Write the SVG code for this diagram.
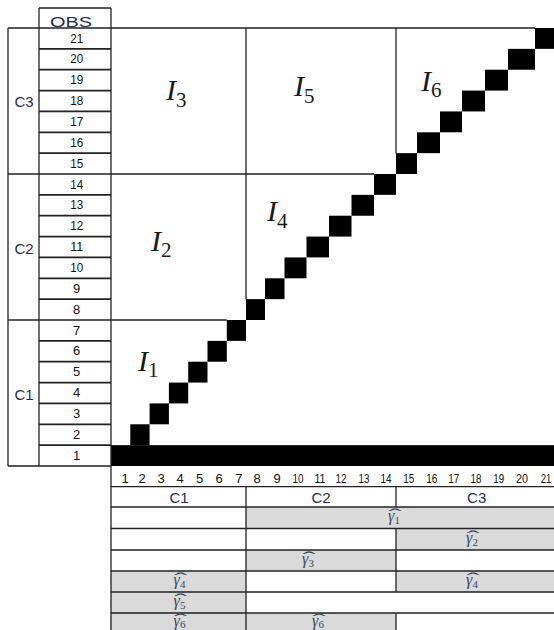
<svg xmlns="http://www.w3.org/2000/svg" width="554" height="630" viewBox="0 0 554 630">
<style>
.ln{stroke:#222;stroke-width:1.3;fill:none}
.ln2{stroke:#222;stroke-width:1.7;fill:none}
.blk{fill:#000}
.gr{fill:#dadada}
.num{font-family:"Liberation Sans",Arial,sans-serif;font-size:13px;fill:#111;text-anchor:middle}
.ax{font-family:"Liberation Sans",Arial,sans-serif;font-size:13px;fill:#111;text-anchor:middle}
.cl{font-family:"Liberation Sans",Arial,sans-serif;font-size:15px;fill:#1f3050}
.hd{font-family:"Liberation Sans",Arial,sans-serif;font-size:15px;fill:#1f3050;text-anchor:middle}
.I{font-family:"Liberation Serif","Times New Roman",serif;font-style:italic;font-size:30px;fill:#1a1a1a}
.Is{font-size:21px;font-style:normal}
.g{font-family:"Liberation Serif","Times New Roman",serif;font-style:italic;font-size:16px;fill:#34495e;text-anchor:middle}
.gs{font-size:11px;font-style:normal}
.hat{font-family:"Liberation Serif","Times New Roman",serif;font-size:16px;fill:#34495e;text-anchor:middle}
</style>

<g id="table-fills">
  <rect class="gr" x="246" y="507" width="310" height="21.5"/>
  <rect class="gr" x="396" y="528.5" width="160" height="21.5"/>
  <rect class="gr" x="246" y="550" width="150" height="21"/>
  <rect class="gr" x="111" y="571" width="135" height="21"/>
  <rect class="gr" x="396" y="571" width="160" height="21"/>
  <rect class="gr" x="111" y="592" width="135" height="21"/>
  <rect class="gr" x="111" y="613" width="135" height="20"/>
  <rect class="gr" x="246" y="613" width="150" height="20"/>
</g>

<g id="staircase">
  <rect class="blk" x="111" y="445.14" width="445" height="20.86"/>
  <rect class="blk" x="130.3" y="424.29" width="19.3" height="20.86"/>
  <rect class="blk" x="149.6" y="403.43" width="19.3" height="20.86"/>
  <rect class="blk" x="168.9" y="382.57" width="19.3" height="20.86"/>
  <rect class="blk" x="188.2" y="361.71" width="19.3" height="20.86"/>
  <rect class="blk" x="207.5" y="340.86" width="19.3" height="20.86"/>
  <rect class="blk" x="226.8" y="320" width="19.2" height="20.86"/>
  <rect class="blk" x="246" y="299.14" width="19" height="20.86"/>
  <rect class="blk" x="265" y="278.29" width="19.5" height="20.86"/>
  <rect class="blk" x="284.5" y="257.43" width="22" height="20.86"/>
  <rect class="blk" x="306.5" y="236.57" width="22.5" height="20.86"/>
  <rect class="blk" x="329" y="215.71" width="22.5" height="20.86"/>
  <rect class="blk" x="351.5" y="194.86" width="22.5" height="20.86"/>
  <rect class="blk" x="374" y="174" width="22" height="20.86"/>
  <rect class="blk" x="396" y="153.14" width="21" height="20.86"/>
  <rect class="blk" x="417" y="132.29" width="23" height="20.86"/>
  <rect class="blk" x="440" y="111.43" width="22" height="20.86"/>
  <rect class="blk" x="462" y="90.57" width="23" height="20.86"/>
  <rect class="blk" x="485" y="69.71" width="23" height="20.86"/>
  <rect class="blk" x="508" y="48.86" width="27" height="20.86"/>
  <rect class="blk" x="535" y="28" width="21" height="20.86"/>
</g>

<g id="grid-lines">
  <path class="ln" d="M39,8 H111 M39,8 V466 M111,8 V630 M8,28 V466 M8,466 H111"/>
  <path class="ln" d="M8,28 H535 M8,174 H374 M8,320 H226.8"/>
  <path class="ln" d="M246,28 V299.14 M396,28 V153.14"/>
  <path class="ln2" d="M39,48.86 H111 M39,69.71 H111 M39,90.57 H111 M39,111.43 H111 M39,132.29 H111 M39,153.14 H111 M39,194.86 H111 M39,215.71 H111 M39,236.57 H111 M39,257.43 H111 M39,278.29 H111 M39,299.14 H111 M39,340.86 H111 M39,361.71 H111 M39,382.57 H111 M39,403.43 H111 M39,424.29 H111 M39,445.14 H111"/>
  <path class="ln" d="M111,486.7 H556 M111,507 H556 M111,528.5 H556 M111,550 H556 M111,571 H556 M111,592 H556 M111,613 H556"/>
  <path class="ln" d="M246,486.7 V633 M396,486.7 V507 M396,528.5 V592 M396,613 V633"/>
</g>

<g id="obs-column">
  <text class="cl" x="71" y="26.5" text-anchor="middle" textLength="42" lengthAdjust="spacingAndGlyphs">OBS</text>
  <text class="num" x="76.7" y="42.5" textLength="13" lengthAdjust="spacingAndGlyphs">21</text>
  <text class="num" x="76.7" y="63.4" textLength="13" lengthAdjust="spacingAndGlyphs">20</text>
  <text class="num" x="76.7" y="84.2" textLength="13" lengthAdjust="spacingAndGlyphs">19</text>
  <text class="num" x="76.7" y="105.1" textLength="13" lengthAdjust="spacingAndGlyphs">18</text>
  <text class="num" x="76.7" y="125.9" textLength="13" lengthAdjust="spacingAndGlyphs">17</text>
  <text class="num" x="76.7" y="146.8" textLength="13" lengthAdjust="spacingAndGlyphs">16</text>
  <text class="num" x="76.7" y="167.6" textLength="13" lengthAdjust="spacingAndGlyphs">15</text>
  <text class="num" x="76.7" y="188.5" textLength="13" lengthAdjust="spacingAndGlyphs">14</text>
  <text class="num" x="76.7" y="209.4" textLength="13" lengthAdjust="spacingAndGlyphs">13</text>
  <text class="num" x="76.7" y="230.2" textLength="13" lengthAdjust="spacingAndGlyphs">12</text>
  <text class="num" x="76.7" y="251.1" textLength="13" lengthAdjust="spacingAndGlyphs">11</text>
  <text class="num" x="76.7" y="271.9" textLength="13" lengthAdjust="spacingAndGlyphs">10</text>
  <text class="num" x="76.7" y="292.8">9</text>
  <text class="num" x="76.7" y="313.6">8</text>
  <text class="num" x="76.7" y="334.5">7</text>
  <text class="num" x="76.7" y="355.4">6</text>
  <text class="num" x="76.7" y="376.2">5</text>
  <text class="num" x="76.7" y="397.1">4</text>
  <text class="num" x="76.7" y="417.9">3</text>
  <text class="num" x="76.7" y="438.8">2</text>
  <text class="num" x="76.7" y="459.6">1</text>
</g>

<g id="cluster-labels">
  <text class="cl" x="14.5" y="107">C3</text>
  <text class="cl" x="14.5" y="254">C2</text>
  <text class="cl" x="14.5" y="400">C1</text>
</g>

<g id="block-labels">
  <text class="I" x="138" y="371">I<tspan class="Is" dy="6">1</tspan></text>
  <text class="I" x="151" y="251">I<tspan class="Is" dy="6">2</tspan></text>
  <text class="I" x="166" y="100">I<tspan class="Is" dy="6.5">3</tspan></text>
  <text class="I" x="267" y="221">I<tspan class="Is" dy="6.5">4</tspan></text>
  <text class="I" x="294" y="96">I<tspan class="Is" dy="6.5">5</tspan></text>
  <text class="I" x="421" y="90.7">I<tspan class="Is" dy="6">6</tspan></text>
</g>

<g id="axis">
  <text class="ax" x="125" y="483.3">1</text>
  <text class="ax" x="142" y="483.3">2</text>
  <text class="ax" x="161" y="483.3">3</text>
  <text class="ax" x="180" y="483.3">4</text>
  <text class="ax" x="199.7" y="483.3">5</text>
  <text class="ax" x="219" y="483.3">6</text>
  <text class="ax" x="238.8" y="483.3">7</text>
  <text class="ax" x="257" y="483.3">8</text>
  <text class="ax" x="277" y="483.3">9</text>
  <text class="ax" x="298" y="483.3" textLength="11" lengthAdjust="spacingAndGlyphs">10</text>
  <text class="ax" x="320" y="483.3" textLength="11" lengthAdjust="spacingAndGlyphs">11</text>
  <text class="ax" x="341" y="483.3" textLength="11" lengthAdjust="spacingAndGlyphs">12</text>
  <text class="ax" x="364" y="483.3" textLength="11" lengthAdjust="spacingAndGlyphs">13</text>
  <text class="ax" x="386" y="483.3" textLength="11" lengthAdjust="spacingAndGlyphs">14</text>
  <text class="ax" x="408.7" y="483.3" textLength="11" lengthAdjust="spacingAndGlyphs">15</text>
  <text class="ax" x="431.7" y="483.3" textLength="11" lengthAdjust="spacingAndGlyphs">16</text>
  <text class="ax" x="453.7" y="483.3" textLength="11" lengthAdjust="spacingAndGlyphs">17</text>
  <text class="ax" x="476" y="483.3" textLength="11" lengthAdjust="spacingAndGlyphs">18</text>
  <text class="ax" x="498.7" y="483.3" textLength="11" lengthAdjust="spacingAndGlyphs">19</text>
  <text class="ax" x="522" y="483.3" textLength="12" lengthAdjust="spacingAndGlyphs">20</text>
  <text class="ax" x="546" y="483.3" textLength="10.5" lengthAdjust="spacingAndGlyphs">21</text>
</g>

<g id="table-labels">
  <text class="hd" x="179" y="503.3">C1</text>
  <text class="hd" x="321" y="503.3">C2</text>
  <text class="hd" x="476.7" y="503.3">C3</text>

  <text class="g" x="394" y="521">γ<tspan class="gs" dy="3">1</tspan></text>
  <text class="hat" x="395" y="520" textLength="13" lengthAdjust="spacingAndGlyphs">ˆ</text>

  <text class="g" x="472" y="542.5">γ<tspan class="gs" dy="3">2</tspan></text>
  <text class="hat" x="473" y="541.5" textLength="13" lengthAdjust="spacingAndGlyphs">ˆ</text>

  <text class="g" x="308" y="564">γ<tspan class="gs" dy="3">3</tspan></text>
  <text class="hat" x="309" y="563" textLength="13" lengthAdjust="spacingAndGlyphs">ˆ</text>

  <text class="g" x="179.5" y="585">γ<tspan class="gs" dy="3">4</tspan></text>
  <text class="hat" x="180.5" y="584" textLength="13" lengthAdjust="spacingAndGlyphs">ˆ</text>

  <text class="g" x="472" y="585">γ<tspan class="gs" dy="3">4</tspan></text>
  <text class="hat" x="473" y="584" textLength="13" lengthAdjust="spacingAndGlyphs">ˆ</text>

  <text class="g" x="179.5" y="606">γ<tspan class="gs" dy="3">5</tspan></text>
  <text class="hat" x="180.5" y="605" textLength="13" lengthAdjust="spacingAndGlyphs">ˆ</text>

  <text class="g" x="179.5" y="625.5">γ<tspan class="gs" dy="2.5">6</tspan></text>
  <text class="hat" x="180.5" y="624.5" textLength="13" lengthAdjust="spacingAndGlyphs">ˆ</text>

  <text class="g" x="318" y="625.5">γ<tspan class="gs" dy="2.5">6</tspan></text>
  <text class="hat" x="319" y="624.5" textLength="13" lengthAdjust="spacingAndGlyphs">ˆ</text>
</g>
</svg>
